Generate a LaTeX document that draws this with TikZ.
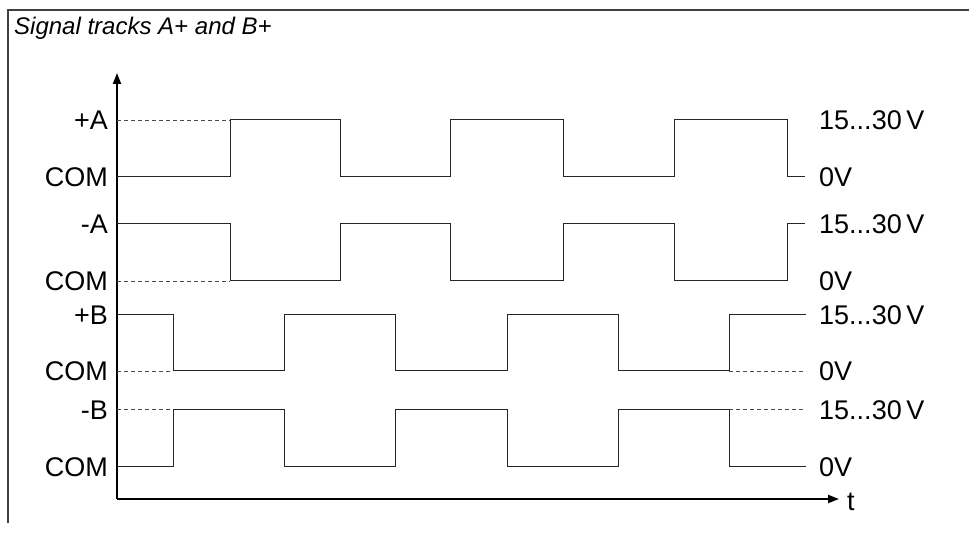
\documentclass[tikz,border=0pt]{standalone}
\usepackage{fontspec}
\setmainfont{Liberation Sans}
\usetikzlibrary{arrows.meta}
\begin{document}
\begin{tikzpicture}[x=1pt,y=-1pt,
  lbl/.style={inner sep=0pt,font=\fontsize{27}{30}\selectfont},
  sig/.style={line width=1pt,black!85},
  ref/.style={line width=0.8pt,black!70,dash pattern=on 4pt off 3pt},
  axis/.style={line width=2pt,-{Triangle[length=11pt,width=8pt]}},
  frame/.style={line width=1.6pt,black!75}]
\useasboundingbox (0,0) rectangle (969,534);
% frame
\draw[frame] (969,10) -- (8,10) -- (8,523);
\node[inner sep=0pt,anchor=base west,font=\fontsize{24}{28}\selectfont\itshape] (title) at (14,35) {Signal tracks A+ and B+};
% axes
\coordinate (o) at (117,499);
\coordinate (ytip) at (117,73);
\coordinate (xtip) at (839,499);
\draw[axis] (o) -- (ytip);
\draw[axis] (o) -- (xtip);
\node[lbl,anchor=base west] (t) at (847,510) {t};
% left labels
\node[lbl,anchor=base east] (lpa) at (108,130) {+A};
\node[lbl,anchor=base east] (lc1) at (108,187) {COM};
\node[lbl,anchor=base east] (lma) at (108,234) {-A};
\node[lbl,anchor=base east] (lc2) at (108,291) {COM};
\node[lbl,anchor=base east] (lpb) at (108,325) {+B};
\node[lbl,anchor=base east] (lc3) at (108,381) {COM};
\node[lbl,anchor=base east] (lmb) at (108,419) {-B};
\node[lbl,anchor=base east] (lc4) at (108,476) {COM};
% right labels
\node[lbl,anchor=base west] (r1) at (819,130) {15...30\,V};
\node[lbl,anchor=base west] (r2) at (819,187) {0V};
\node[lbl,anchor=base west] (r3) at (819,234) {15...30\,V};
\node[lbl,anchor=base west] (r4) at (819,291) {0V};
\node[lbl,anchor=base west] (r5) at (819,325) {15...30\,V};
\node[lbl,anchor=base west] (r6) at (819,381) {0V};
\node[lbl,anchor=base west] (r7) at (819,419) {15...30\,V};
\node[lbl,anchor=base west] (r8) at (819,476) {0V};
% +A
\draw[ref] (117,120) -- (230,120);
\draw[sig] (117,177) -- (230,177) -- (230,120) -- (340,120) -- (340,177) -- (450,177) -- (450,120) -- (563,120) -- (563,177) -- (674,177) -- (674,120) -- (787,120) -- (787,177) -- (805,177);
% -A
\draw[ref] (117,281) -- (230,281);
\draw[sig] (117,224) -- (230,224) -- (230,281) -- (340,281) -- (340,224) -- (450,224) -- (450,281) -- (563,281) -- (563,224) -- (674,224) -- (674,281) -- (787,281) -- (787,224) -- (805,224);
% +B
\draw[ref] (117,371) -- (173,371);
\draw[ref] (729,371) -- (806,371);
\draw[sig] (117,315) -- (173,315) -- (173,371) -- (284,371) -- (284,315) -- (395,315) -- (395,371) -- (507,371) -- (507,315) -- (618,315) -- (618,371) -- (729,371) -- (729,315) -- (806,315);
% -B
\draw[ref] (117,409) -- (173,409);
\draw[ref] (729,409) -- (806,409);
\draw[sig] (117,466) -- (173,466) -- (173,409) -- (284,409) -- (284,466) -- (395,466) -- (395,409) -- (507,409) -- (507,466) -- (618,466) -- (618,409) -- (729,409) -- (729,466) -- (806,466);
\end{tikzpicture}
\end{document}
